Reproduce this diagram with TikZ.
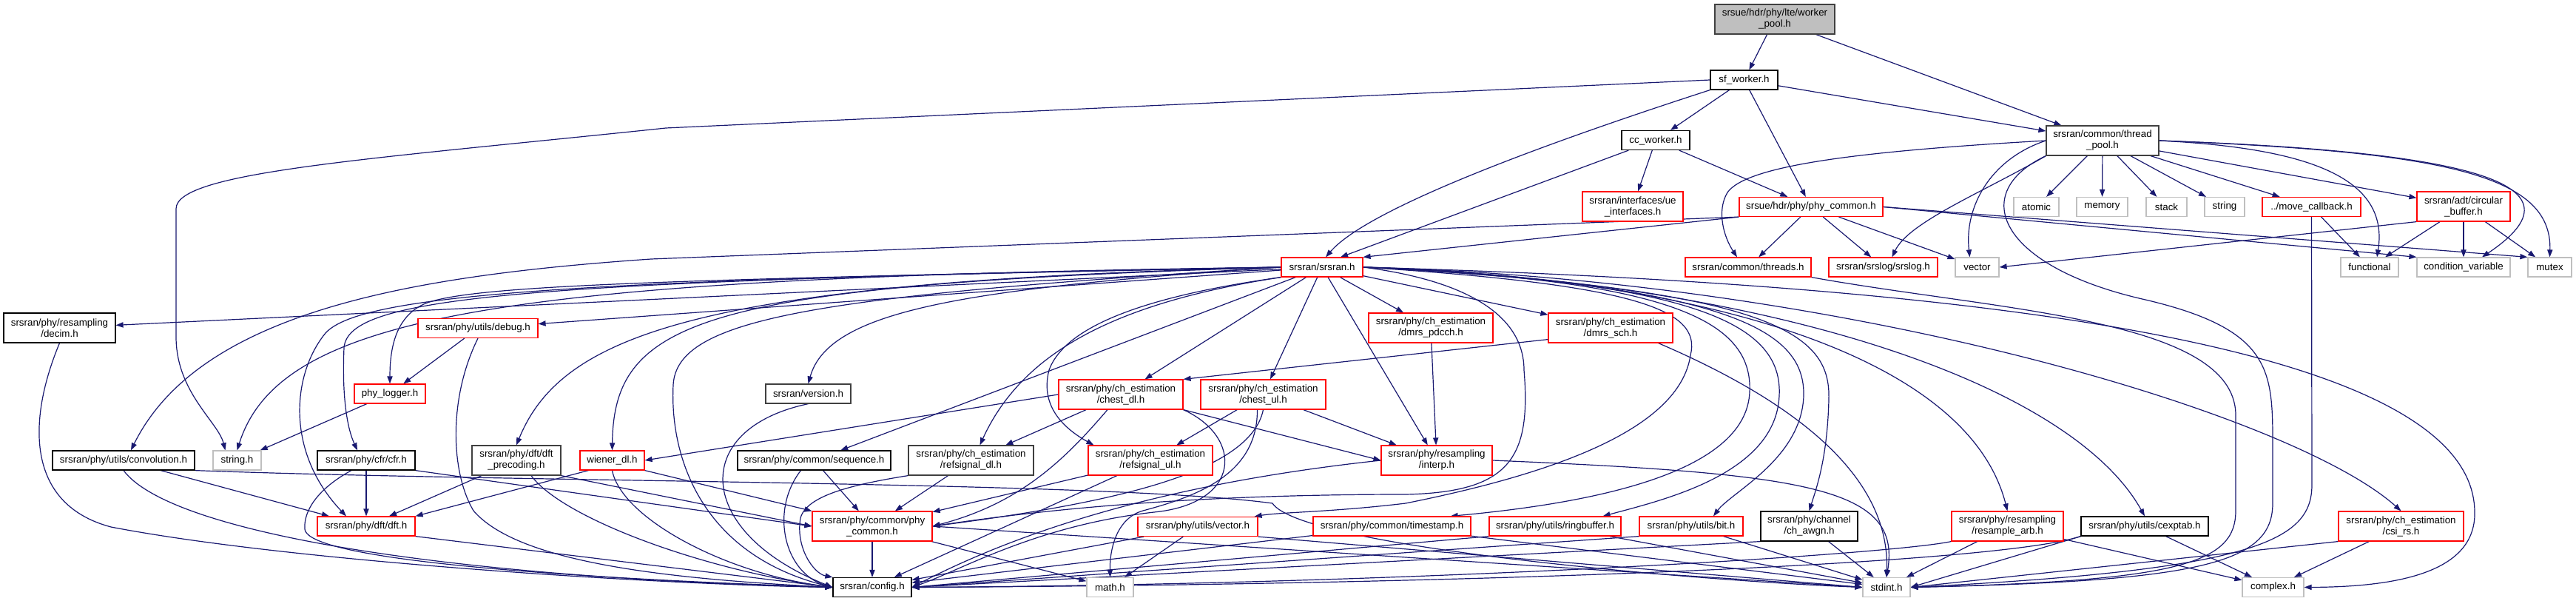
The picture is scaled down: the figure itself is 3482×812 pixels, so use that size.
\documentclass[tikz,border=0pt]{standalone}
\usepackage{fontspec}
\setmainfont{Liberation Sans}
\usetikzlibrary{arrows.meta,calc}
\pgfdeclarelayer{bg}
\pgfsetlayers{bg,main}
\definecolor{mblue}{HTML}{191970}
\definecolor{dkgray}{HTML}{404040}
\definecolor{lgray}{HTML}{BFBFBF}
\newcommand{\dxf}{\fontsize{6.67pt}{7.5pt}\selectfont}
\begin{document}
\begin{tikzpicture}[x=0.5pt,y=0.5pt,
 nb/.style={draw, line width=0.6pt, fill=white, inner sep=0pt, align=center, font=\dxf, minimum height=13pt},
 blk/.style={nb, draw=black},
 dkg/.style={nb, draw=dkgray},
 trn/.style={nb, draw=red},
 ext/.style={nb, draw=lgray},
 tall/.style={minimum height=20pt},
 W/.style={minimum width=#1pt},
 e/.style={draw=mblue, line width=0.6pt, -{Triangle[length=5pt,width=3.6pt]}}
]
\useasboundingbox (0,0) rectangle (3482,-812);
% ---- nodes
\node[dkg, fill=lgray, tall, W=81] (wp) at (2399,-26) {srsue/hdr/phy/lte/worker\\\_pool.h};
\node[blk, W=45.5] (sfw) at (2357.5,-108) {sf\_worker.h};
\node[blk, W=46] (ccw) at (2238,-189.5) {cc\_worker.h};
\node[trn, tall, W=68] (uei) at (2207,-279) {srsran/interfaces/ue\\\_interfaces.h};
\node[trn, W=97] (sphc) at (2448,-279.5) {srsue/hdr/phy/phy\_common.h};
\node[dkg, tall, W=76] (tp) at (2842,-190) {srsran/common/thread\\\_pool.h};
\node[trn, W=55] (srsran) at (1787,-361) {srsran/srsran.h};
\node[trn, W=85] (threads) at (2363,-361) {srsran/common/threads.h};
\node[trn, W=73.5] (srslog) at (2545.5,-361) {srsran/srslog/srslog.h};
\node[ext, W=29.5] (vector) at (2672.5,-361) {vector};
\node[ext, W=30.5] (atomic) at (2752.5,-279.5) {atomic};
\node[ext, W=34.5] (memory) at (2841.5,-279.5) {memory};
\node[ext, W=27.5] (stack) at (2928.5,-279.5) {stack};
\node[ext, W=27] (string) at (3007,-279.5) {string};
\node[trn, W=66.5] (movecb) at (3124.5,-279.5) {../move\_callback.h};
\node[trn, tall, W=63] (circbuf) at (3330,-279) {srsran/adt/circular\\\_buffer.h};
\node[ext, W=39] (functional) at (3203,-361) {functional};
\node[ext, W=63] (condvar) at (3330,-361) {condition\_variable};
\node[ext, W=29.5] (mutex) at (3446.5,-361) {mutex};
\node[blk, tall, W=75.5] (decim) at (80.5,-443) {srsran/phy/resampling\\/decim.h};
\node[trn, W=81] (debug) at (646,-443.5) {srsran/phy/utils/debug.h};
\node[trn, tall, W=84] (dmrspdcch) at (1934,-443) {srsran/phy/ch\_estimation\\/dmrs\_pdcch.h};
\node[trn, tall, W=84] (dmrssch) at (2177,-443) {srsran/phy/ch\_estimation\\/dmrs\_sch.h};
\node[trn, W=48] (phylogger) at (527,-532) {phy\_logger.h};
\node[dkg, W=57.5] (version) at (1092.5,-532) {srsran/version.h};
\node[trn, tall, W=84] (chestdl) at (1515,-533) {srsran/phy/ch\_estimation\\/chest\_dl.h};
\node[trn, tall, W=84.5] (chestul) at (1707.5,-533) {srsran/phy/ch\_estimation\\/chest\_ul.h};
\node[blk, W=96] (conv) at (167,-622) {srsran/phy/utils/convolution.h};
\node[ext, W=32.5] (stringh) at (320.5,-622) {string.h};
\node[blk, W=66] (cfr) at (495,-622) {srsran/phy/cfr/cfr.h};
\node[dkg, tall, W=60] (dftprec) at (698,-622) {srsran/phy/dft/dft\\\_precoding.h};
\node[trn, W=43.5] (wiener) at (827.5,-622) {wiener\_dl.h};
\node[blk, W=103.5] (sequence) at (1100.5,-622) {srsran/phy/common/sequence.h};
\node[dkg, tall, W=84.5] (refdl) at (1312.5,-622) {srsran/phy/ch\_estimation\\/refsignal\_dl.h};
\node[trn, tall, W=84] (reful) at (1555,-622) {srsran/phy/ch\_estimation\\/refsignal\_ul.h};
\node[trn, tall, W=75] (interp) at (1942,-622) {srsran/phy/resampling\\/interp.h};
\node[trn, W=66] (dft) at (495,-711) {srsran/phy/dft/dft.h};
\node[trn, tall, W=81] (cphc) at (1179,-711) {srsran/phy/common/phy\\\_common.h};
\node[trn, W=81] (vectorh) at (1619,-711.5) {srsran/phy/utils/vector.h};
\node[trn, W=106.5] (timestamp) at (1881.5,-711) {srsran/phy/common/timestamp.h};
\node[trn, W=89] (ringbuf) at (2102,-711) {srsran/phy/utils/ringbuffer.h};
\node[trn, W=70] (bit) at (2286,-711) {srsran/phy/utils/bit.h};
\node[blk, tall, W=65.5] (awgn) at (2445.5,-711) {srsran/phy/channel\\/ch\_awgn.h};
\node[trn, tall, W=75.5] (resarb) at (2713.5,-711) {srsran/phy/resampling\\/resample\_arb.h};
\node[blk, W=86] (cexptab) at (2899,-711) {srsran/phy/utils/cexptab.h};
\node[trn, tall, W=84.5] (csirs) at (3245.5,-711) {srsran/phy/ch\_estimation\\/csi\_rs.h};
\node[blk, W=53] (config) at (1179,-793.5) {srsran/config.h};
\node[ext, W=31.5] (math) at (1500.5,-793.5) {math.h};
\node[ext, W=32] (stdint) at (2550,-793.5) {stdint.h};
\node[ext, W=41.5] (complex) at (3072.5,-793.5) {complex.h};
% ---- edges
\begin{pgfonlayer}{bg}
\draw[e] (wp) -- (sfw);
\draw[e] (wp) -- (tp);
\draw[e] (sfw.west) -- (900,-173) .. controls (500,-215) and (238,-232) .. (238,-282) -- (238,-455) .. controls (238,-530) and (295,-570) .. ($(stringh.north)+(-16,0)$);
\draw[e] (sfw.south west) .. controls (2100,-190) and (1850,-280) .. ($(srsran.north)+(5,0)$);
\draw[e] (sfw) -- (ccw);
\draw[e] (sfw) -- (sphc);
\draw[e] (sfw) -- (tp);
\draw[e] (ccw) -- ($(srsran.north)+(25,0)$);
\draw[e] (ccw) -- (uei);
\draw[e] (ccw) -- (sphc);
\draw[e] (sphc.south west) -- (srsran.north east);
\draw[e] (sphc.south west) -- (880,-350) .. controls (560,-372) and (270,-420) .. ($(conv.north)+(10,0)$);
\draw[e] (sphc) -- (threads);
\draw[e] (sphc) -- (srslog);
\draw[e] (sphc) -- (vector);
\draw[e] (sphc.east) -- (condvar.north west);
\draw[e] (sphc.east) -- (mutex.north west);
% thread pool
\draw[e] (tp) -- (atomic);
\draw[e] (tp) -- (memory);
\draw[e] (tp) -- (stack);
\draw[e] (tp) -- (string);
\draw[e] (tp) -- (movecb);
\draw[e] (tp) -- (circbuf);
\draw[e] (tp.east) .. controls (3120,-200) and (3230,-240) .. ($(functional.north)+(10,0)$);
\draw[e] (tp.east) .. controls (3350,-205) and (3500,-250) .. ($(condvar.north)+(25,0)$);
\draw[e] (tp.east) .. controls (3300,-205) and (3450,-235) .. (mutex.north);
\draw[e] (tp.west) .. controls (2690,-215) and (2655,-280) .. ($(vector.north)+(-10,0)$);
\draw[e] (tp.west) .. controls (2500,-205) and (2360,-225) .. (2335,-260) .. controls (2320,-285) and (2330,-320) .. ($(threads.north)+(-15,0)$);
\draw[e] (tp.south west) .. controls (2680,-260) and (2580,-300) .. ($(srslog.north)+(12,0)$);
\draw[e] (tp.south west) .. controls (2660,-260) and (2700,-360) .. (2900,-405) .. controls (3070,-445) and (3072,-500) .. (3072,-600) -- (3072,-680) .. controls (3072,-760) and (2980,-785) .. (stdint.east);
\draw[e] (movecb) -- (functional);
\draw[e] (movecb.south) -- (3125,-655) .. controls (3125,-730) and (3050,-770) .. (stdint.east);
\draw[e] (circbuf.south west) -- (vector.east);
\draw[e] (circbuf) -- (functional);
\draw[e] (circbuf) -- (condvar);
\draw[e] (circbuf) -- (mutex);
\draw[e] (threads.south east) .. controls (2700,-420) and (3020,-430) .. (3022,-560) -- (3022,-690) .. controls (3022,-760) and (2950,-785) .. (stdint.east);
% srsran fan
\draw[e] (srsran) -- (decim);
\draw[e] (srsran) -- (debug);
\draw[e] (srsran.west) .. controls (900,-378) and (640,-385) .. (575,-410) .. controls (540,-425) and (527,-460) .. (phylogger.north);
\draw[e] (srsran.west) .. controls (700,-375) and (380,-420) .. (stringh.north);
\draw[e] (srsran.west) .. controls (700,-380) and (470,-400) .. (465,-470) .. controls (462,-540) and (470,-580) .. ($(cfr.north)+(-12,0)$);
\draw[e] (srsran.west) .. controls (800,-378) and (490,-395) .. (440,-450) .. controls (395,-505) and (385,-610) .. ($(dft.north)+(-27,0)$);
\draw[e] (srsran.west) .. controls (950,-380) and (760,-450) .. (dftprec.north);
\draw[e] (srsran.west) .. controls (950,-385) and (830,-430) .. (wiener.north);
\draw[e] (srsran.west) .. controls (1300,-390) and (1120,-420) .. (version.north);
\draw[e] (srsran.west) .. controls (1100,-400) and (915,-430) .. (910,-520) .. controls (905,-620) and (950,-750) .. (config.west);
\draw[e] (srsran) -- (sequence);
\draw[e] (srsran.south west) .. controls (1500,-410) and (1380,-480) .. ($(refdl.north)+(12,0)$);
\draw[e] (srsran) -- (chestdl);
\draw[e] (srsran) -- (chestul);
\draw[e] (srsran.south west) .. controls (1550,-400) and (1440,-440) .. (1418,-500) .. controls (1405,-550) and (1440,-580) .. ($(reful.north west)+(8,0)$);
\draw[e] (srsran) -- (dmrspdcch);
\draw[e] (srsran) -- (dmrssch);
\draw[e] (srsran) -- (interp);
\draw[e] (srsran.east) .. controls (1990,-380) and (2060,-430) .. (2060,-500) .. controls (2070,-620) and (2040,-665) .. (1900,-668) .. controls (1600,-668) and (1400,-690) .. (cphc.east);
\draw[e] (srsran.east) .. controls (2220,-385) and (2300,-420) .. (2285,-480) .. controls (2270,-580) and (2100,-640) .. (1900,-680) .. controls (1800,-692) and (1730,-692) .. ($(vectorh.north east)+(-5,0)$);
\draw[e] (srsran.east) .. controls (2250,-378) and (2370,-430) .. (2365,-530) .. controls (2360,-640) and (2150,-680) .. ($(timestamp.north east)+(-28,0)$);
\draw[e] (srsran.east) .. controls (2300,-380) and (2410,-440) .. (2405,-535) .. controls (2400,-640) and (2250,-675) .. ($(ringbuf.north east)+(-25,0)$);
\draw[e] (srsran.east) .. controls (2350,-385) and (2440,-450) .. (2438,-535) .. controls (2435,-620) and (2340,-665) .. ($(bit.north)+(30,0)$);
\draw[e] (srsran.east) .. controls (2400,-390) and (2475,-450) .. (2472,-540) .. controls (2470,-620) and (2455,-660) .. (awgn.north);
\draw[e] (srsran.east) .. controls (2300,-375) and (2660,-480) .. (resarb.north);
\draw[e] (srsran.east) .. controls (2400,-380) and (2800,-520) .. (cexptab.north);
\draw[e] (srsran.east) .. controls (2500,-378) and (3100,-560) .. (csirs.north);
\draw[e] (srsran.east) .. controls (2700,-385) and (3340,-470) .. (3345,-690) .. controls (3348,-770) and (3250,-793) .. (complex.east);
% left block
\draw[e] (debug) -- (phylogger);
\draw[e] (debug.south) .. controls (605,-540) and (610,-640) .. (640,-690) .. controls (700,-760) and (900,-782) .. (config.west);
\draw[e] (phylogger) -- (stringh);
\draw[e] (decim.south) .. controls (40,-560) and (30,-680) .. (150,-712) .. controls (400,-760) and (900,-790) .. (config.west);
\draw[e] (conv) -- (dft);
\draw[e] (conv.south) .. controls (230,-720) and (600,-780) .. (config.west);
\draw[e] (conv.south east) .. controls (700,-652) and (1500,-650) .. (1720,-680) .. controls (1760,-740) and (2300,-785) .. (stdint.west);
\draw[e] (cfr) -- (dft);
\draw[e] ($(cfr.south)+(-20,0)$) .. controls (430,-660) and (410,-690) .. (412,-715) .. controls (415,-745) and (600,-775) .. (config.west);
\draw[e] (cfr.south east) -- (cphc.west);
\draw[e] (dftprec) -- (dft);
\draw[e] ($(dftprec.south)+(20,0)$) .. controls (760,-700) and (950,-770) .. (config.west);
\draw[e] (dftprec.south east) -- (cphc.west);
\draw[e] ($(wiener.south west)+(12,0)$) -- (dft.north east);
\draw[e] (wiener.south) .. controls (840,-700) and (980,-775) .. (config.west);
\draw[e] (wiener.south east) -- (cphc.north west);
\draw[e] (dft.south east) -- (config.west);
\draw[e] (version.south) .. controls (930,-580) and (940,-720) .. (config.west);
\draw[e] (sequence) -- (cphc);
\draw[e] ($(sequence.south)+(-18,0)$) .. controls (1040,-690) and (1060,-775) .. (config.west);
\draw[e] (refdl) -- (cphc);
\draw[e] (refdl.south west) .. controls (1150,-655) and (1090,-670) .. (1082,-700) .. controls (1075,-740) and (1100,-775) .. (config.north west);
% channel estimation block
\draw[e] (chestdl.west) -- (wiener.east);
\draw[e] (chestdl) -- (refdl);
\draw[e] ($(chestdl.south)+(-18,0)$) .. controls (1440,-620) and (1380,-680) .. (cphc.east);
\draw[e] (chestdl.south east) -- (interp.west);
\draw[e] (chestdl.south east) .. controls (1680,-590) and (1680,-680) .. (1560,-692) .. controls (1400,-710) and (1300,-770) .. (config.east);
\draw[e] (chestul) -- (reful);
\draw[e] (chestul.south) .. controls (1690,-640) and (1500,-680) .. (cphc.east);
\draw[e] (chestul) -- (interp);
\draw[e] ($(chestul.south)+(-8,0)$) .. controls (1700,-640) and (1620,-670) .. (1545,-690) .. controls (1510,-700) and (1500,-740) .. (math.north);
\draw[e] (reful) -- (cphc);
\draw[e] (reful) -- (config);
\draw[e] (cphc) -- (config);
\draw[e] (cphc) -- (math);
\draw[e] (cphc.east) -- (stdint.west);
\draw[e] (vectorh) -- (config);
\draw[e] (vectorh) -- (math);
\draw[e] (vectorh.south east) -- (stdint.west);
\draw[e] (dmrspdcch) -- (interp);
\draw[e] ($(dmrssch.south west)+(0,5)$) -- (chestdl.north east);
\draw[e] ($(dmrssch.south east)+(-20,0)$) .. controls (2420,-540) and (2555,-640) .. (stdint.north);
\draw[e] (interp.west) .. controls (1700,-640) and (1450,-680) .. (config.east);
\draw[e] (interp.east) .. controls (2450,-640) and (2570,-660) .. (stdint.north);
% bottom row
\draw[e] (timestamp) -- (config);
\draw[e] (timestamp) -- (stdint);
\draw[e] (ringbuf.south west) -- (config.east);
\draw[e] (ringbuf) -- (stdint);
\draw[e] (bit.south west) -- (config.east);
\draw[e] (bit) -- (stdint);
\draw[e] (awgn.south west) -- (config.east);
\draw[e] (awgn) -- (stdint);
\draw[e] (resarb.south west) .. controls (2550,-750) and (1900,-790) .. (config.east);
\draw[e] (resarb) -- (stdint);
\draw[e] (resarb) -- (complex);
\draw[e] (cexptab.south west) .. controls (2700,-762) and (2000,-790) .. (config.east);
\draw[e] (cexptab.south west) -- (stdint.east);
\draw[e] (cexptab) -- (complex);
\draw[e] (csirs.south west) -- (stdint.east);
\draw[e] (csirs) -- (complex);
\end{pgfonlayer}
\end{tikzpicture}
\end{document}
